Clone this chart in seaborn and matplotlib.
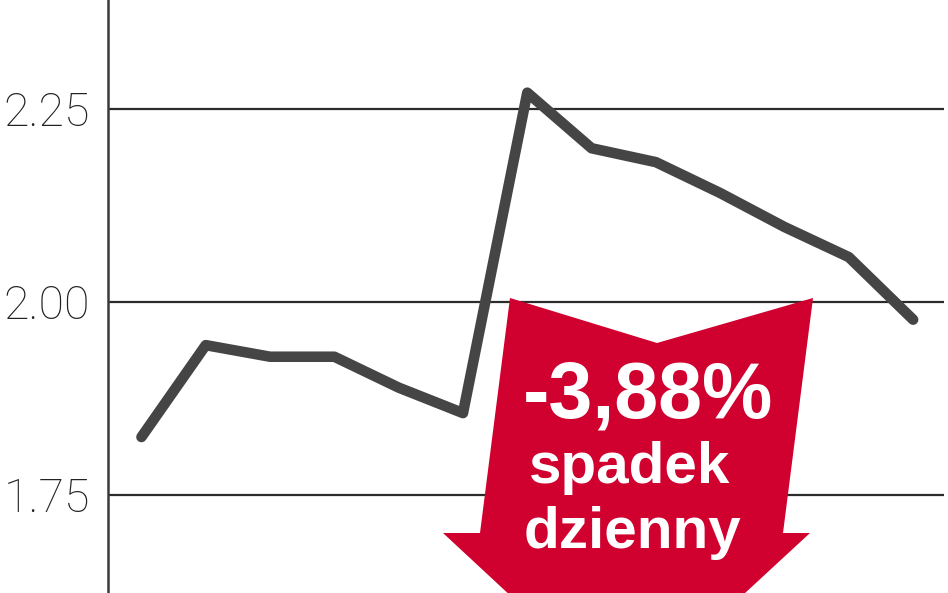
import numpy as np
import pandas as pd
import matplotlib
matplotlib.use('Agg')
import matplotlib.pyplot as plt
from matplotlib.patches import Polygon
import seaborn as sns

# dane z wykresu (kurs dzienny)
sesje = list(range(13))
kurs = [1.825, 1.944, 1.929, 1.929, 1.889, 1.856, 2.271, 2.199, 2.181,
        2.141, 2.097, 2.058, 1.977]
etykiety_y = ['1.75', '2.00', '2.25']
znaczniki_y = [1.75, 2.00, 2.25]
zmiana = '-3,88%'

df = pd.DataFrame({'sesja': sesje, 'kurs': kurs})

sns.set_style('white')
plt.rcParams['font.family'] = ['Roboto', 'DejaVu Sans']

W, H = 948, 593
fig = plt.figure(figsize=(W / 100, H / 100), dpi=100)
ax = fig.add_axes([108 / W, 0, (944 - 108) / W, 1])

sns.lineplot(data=df, x='sesja', y='kurs', ax=ax, color='#454545',
             linewidth=7.6, solid_capstyle='round', solid_joinstyle='round', zorder=3)

ax.set_xlim(-0.52, 12.48)
ax.set_ylim(1.623, 2.391)
ax.set_xticks([])
ax.set_yticks(znaczniki_y)
ax.set_yticklabels(etykiety_y, fontsize=33.5, fontweight='light', color='#222222')
ax.tick_params(axis='y', length=0, pad=13)
ax.set_xlabel('')
ax.set_ylabel('')
ax.yaxis.grid(True, color='#2b2b2b', linewidth=1.6, zorder=1)
ax.set_axisbelow(True)
for s in ['top', 'right', 'bottom']:
    ax.spines[s].set_visible(False)
ax.spines['left'].set_color('#3a3a3a')
ax.spines['left'].set_linewidth(1.8)

# czerwona strzalka (w pikselach figury)
strzalka_px = [(510, 298), (657, 343), (813, 298), (783, 533), (810, 533),
               (626, 703), (443, 533), (480, 533)]
pts = [(x / W, 1 - y / H) for x, y in strzalka_px]
fig.patches.append(Polygon(pts, closed=True, transform=fig.transFigure,
                           facecolor='#d0002f', edgecolor='none', zorder=5))

fig.text(648 / W, 1 - 417 / H, zmiana, color='white', fontsize=57,
         fontweight='bold', ha='center', va='baseline',
         family=['Liberation Sans', 'DejaVu Sans'], zorder=6)
fig.text(630 / W, 1 - 483 / H, 'spadek', color='white', fontsize=42,
         fontweight='bold', ha='center', va='baseline',
         family=['Liberation Sans', 'DejaVu Sans'], zorder=6)
fig.text(632 / W, 1 - 548 / H, 'dzienny', color='white', fontsize=42,
         fontweight='bold', ha='center', va='baseline',
         family=['Liberation Sans', 'DejaVu Sans'], zorder=6)

fig.savefig('out.png', dpi=100)
